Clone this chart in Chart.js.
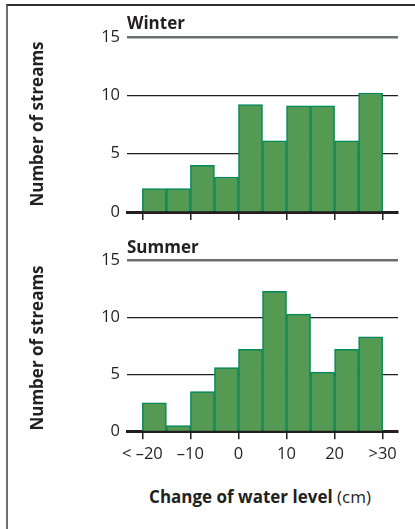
<!DOCTYPE html>
<html><head><meta charset="utf-8">
<script src="https://cdn.jsdelivr.net/npm/chart.js@4.4.1/dist/chart.umd.min.js"></script>
<style>
html,body{margin:0;padding:0;background:#fff;}
#wrap{position:relative;width:415px;height:529px;overflow:hidden;font-family:"Open Sans",sans-serif;color:#231f20;}
canvas{position:absolute;left:0;}
.frame{position:absolute;left:6px;top:4px;width:420px;height:540px;border-top:2px solid #2e2e2e;border-left:2px solid #6d6e71;}
.ptitle{position:absolute;left:127px;font-weight:700;font-size:17px;line-height:17px;white-space:nowrap;}
.ytitle{position:absolute;left:36px;font-weight:700;font-size:17px;line-height:17px;white-space:nowrap;transform:translate(-50%,-50%) rotate(-90deg);}
.xtitle{position:absolute;left:260px;top:488px;font-size:17px;line-height:17px;white-space:nowrap;transform:translateX(-50%);}
.xtitle b{font-weight:700;}
</style>
</head><body>
<div id="wrap">
  <div class="frame"></div>
  <canvas id="c1" width="415" height="230" style="top:0px"></canvas>
  <canvas id="c2" width="415" height="250" style="top:230px"></canvas>
  <div class="ptitle" style="top:14px">Winter</div>
  <div class="ptitle" style="top:238px">Summer</div>
  <div class="ytitle" style="top:124px">Number of streams</div>
  <div class="ytitle" style="top:348px">Number of streams</div>
  <div class="xtitle"><b>Change of water level</b> (cm)</div>
</div>
<script>
const binCenters = [-17.5, -12.5, -7.5, -2.5, 2.5, 7.5, 12.5, 17.5, 22.5, 27.5];
const winterCounts = [2, 2, 4, 3, 9.2, 6.1, 9.1, 9.1, 6.1, 10.2];
const summerCounts = [2.5, 0.5, 3.5, 5.6, 7.2, 12.3, 10.3, 5.2, 7.2, 8.3];
const xTickValues = [-20, -10, 0, 10, 20, 30];
const xTickLabels = ['< \u201320', '\u201310', '0', '10', '20', '>30'];
const yMax = 15;
const yStep = 5;

const TEXT = '#231f20';

function makeChart(id, counts, showLabels, pad) {
  return new Chart(document.getElementById(id), {
    type: 'bar',
    data: {
      datasets: [{
        data: binCenters.map((c, i) => ({ x: c, y: counts[i] })),
        backgroundColor: '#559a52',
        borderColor: '#00875a',
        borderWidth: 1.5,
        barPercentage: 1,
        categoryPercentage: 1
      }]
    },
    options: {
      responsive: false,
      maintainAspectRatio: false,
      devicePixelRatio: 1,
      animation: false,
      layout: { padding: pad },
      plugins: { legend: { display: false }, tooltip: { enabled: false }, title: { display: false } },
      scales: {
        x: {
          type: 'linear',
          min: -23.2,
          max: 33.2,
          offset: false,
          afterBuildTicks: s => { s.ticks = xTickValues.map(v => ({ value: v })); },
          ticks: {
            display: showLabels,
            autoSkip: false,
            maxRotation: 0,
            padding: 5,
            color: TEXT,
            font: { family: 'Open Sans', size: 16.5 },
            callback: v => { const i = xTickValues.indexOf(v); return i >= 0 ? xTickLabels[i] : ''; }
          },
          grid: { display: true, offset: false, drawOnChartArea: false, drawTicks: true, tickLength: 8, color: TEXT, lineWidth: 1.5 },
          border: { display: true, width: 3, color: TEXT }
        },
        y: {
          min: 0,
          max: yMax,
          afterFit: s => { s.width = 127; },
          ticks: { stepSize: yStep, padding: 7, color: TEXT, font: { family: 'Open Sans', size: 16.5 } },
          grid: {
            drawTicks: false,
            color: c => (c.tick && c.tick.value === yMax) ? '#6d6e71' : (c.tick && c.tick.value === 0 ? 'rgba(0,0,0,0)' : TEXT),
            lineWidth: c => (c.tick && c.tick.value === yMax) ? 2.5 : 1.3
          },
          border: { display: false }
        }
      }
    }
  });
}

makeChart('c1', winterCounts, false, { left: 0, top: 37, right: 17, bottom: 10 });
makeChart('c2', summerCounts, true, { left: 0, top: 30.7, right: 17, bottom: 10.9 });
</script>
</body></html>
